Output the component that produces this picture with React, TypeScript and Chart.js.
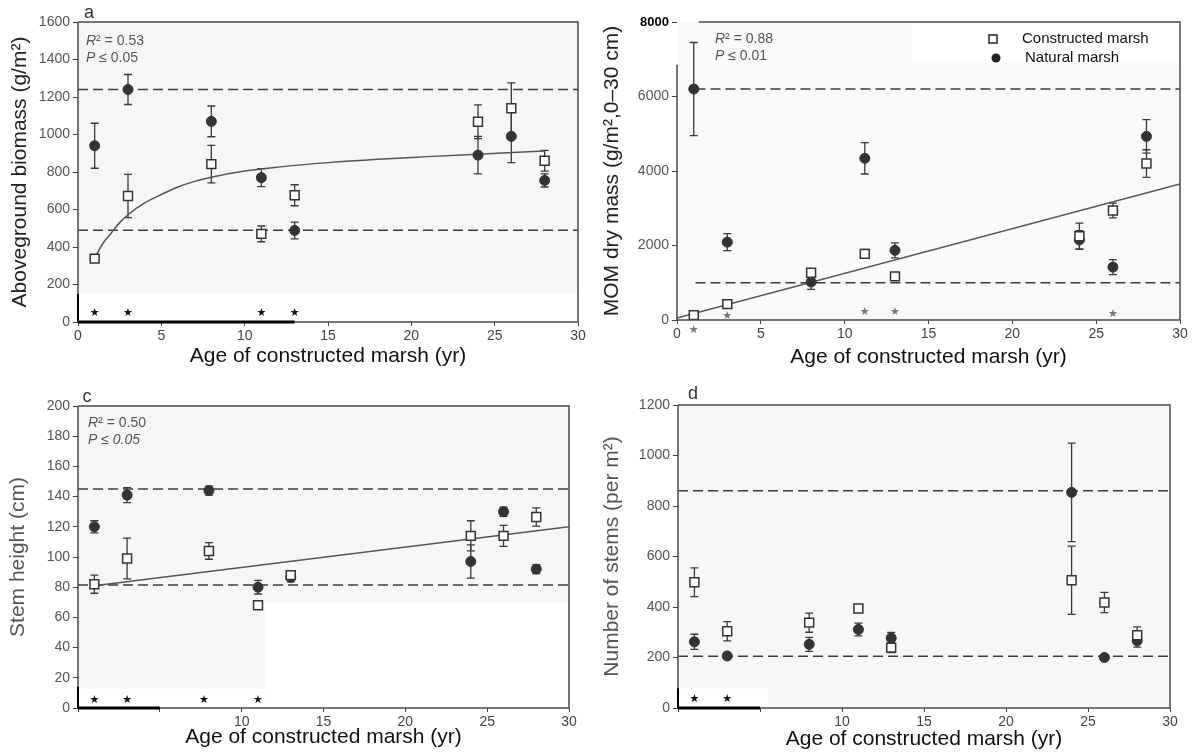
import React, { useEffect, useRef } from "react";
import { Chart, registerables } from "chart.js";
Chart.register(...registerables);

const FONT = "'Liberation Sans', Arial, Helvetica, sans-serif";
Chart.defaults.font.family = FONT;

// ---------- shared ----------
const xTitle = "Age of constructed marsh (yr)";
const legendLabels = ["Constructed marsh", "Natural marsh"];

// ---------- panel a: aboveground biomass ----------
const aAges = [1, 3, 8, 11, 13, 24, 26, 28];
const aNatural = [940, 1240, 1070, 770, 488, 890, 990, 755];
const aNaturalErr = [120, 80, 82, 48, 45, 100, 140, 35];
const aConstructed = [338, 672, 842, 470, 676, 1068, 1140, 860];
const aConstructedErr = [20, 115, 100, 42, 56, 90, 135, 55];
const aRefLines = [1240, 490];
const aFitAges = [1, 1.5, 2, 2.5, 3, 4, 5, 6, 7, 8, 10, 12, 15, 18, 21, 24, 28];
const aFit = [340, 420, 475, 530, 572, 635, 680, 720, 750, 772, 805, 826, 850, 868, 882, 895, 912];
const aStarAges = [1, 3, 11, 13];
const aStarY = [45, 45, 45, 45];
const aYTicks = [0, 200, 400, 600, 800, 1000, 1200, 1400, 1600];

// ---------- panel b: MOM dry mass ----------
const bAges = [1, 3, 8, 11.2, 13, 24, 26, 28];
const bNatural = [6200, 2090, 1020, 4340, 1870, 2150, 1420, 4930];
const bNaturalErr = [1250, 230, 200, 420, 200, 250, 200, 450];
const bConstructed = [130, 425, 1270, 1775, 1170, 2250, 2940, 4200];
const bConstructedErr = [0, 0, 100, 120, 80, 350, 200, 370];
const bRefLines = [6200, 1000];
const bFitAges = [0, 30];
const bFit = [50, 3650];
const bStarAges = [1, 3, 11.2, 13, 26];
const bStarY = [-260, 110, 220, 200, 150];
const bYTicks = [0, 2000, 4000, 6000, 8000];

// ---------- panel c: stem height ----------
const cAges = [1, 3, 8, 11, 13, 24, 26, 28];
const cNatural = [120, 141, 144, 80, 86.5, 97, 130, 92];
const cNaturalErr = [4, 5, 3, 4.5, 3, 11, 3, 3];
const cConstructed = [82, 99, 104, 68, 88, 114, 114, 126.5];
const cConstructedErr = [6, 13.5, 5.5, 0, 2, 10, 7, 6];
const cRefLines = [145, 81.5];
const cFitAges = [1, 30];
const cFit = [81, 120];
const cStarAges = [1, 3, 7.7, 11];
const cStarY = [5.5, 5.5, 5.5, 5.5];
const cYTicks = [0, 20, 40, 60, 80, 100, 120, 140, 160, 180, 200];

// ---------- panel d: number of stems ----------
const dAges = [1, 3, 8, 11, 13, 24, 26, 28];
const dNatural = [262, 206, 252, 311, 277, 854, 200, 266];
const dNaturalErr = [30, 8, 28, 25, 22, 195, 8, 25];
const dConstructed = [498, 304, 338, 394, 239, 506, 418, 288];
const dConstructedErr = [57, 38, 38, 15, 20, 135, 40, 33];
const dRefLines = [860, 205];
const dStarAges = [1, 3];
const dStarY = [37, 37];
const dYTicks = [0, 200, 400, 600, 800, 1000, 1200];

const xTicks = [0, 5, 10, 15, 20, 25, 30];

type Seg = { t: string; it?: boolean };

type Spec = {
  left: number; top: number; w: number; h: number;
  pad: { left: number; right: number; top: number; bottom: number };
  yW: number; xH: number;
  yMax: number; yTicks: number[]; yTitle: string; yTitleColor: string; yTitlePad: number;
  xTitlePad: number; hideX: number[];
  ages: number[]; nat: number[]; natErr: number[]; con: number[]; conErr: number[];
  refLines: number[]; refFrom: number;
  fitX?: number[]; fitY?: number[]; fitCurve?: boolean;
  starX: number[]; starY: number[]; starColor: string;
  letter?: { t: string; x: number; y: number };
  stats?: { x: number; y: number; lines: Seg[][] };
  legend?: boolean;
  bg: string; whiteouts: number[][];
  thick?: { xTo: number; yTo: number };
  leftAxisTop?: number; topFromX?: number;
  boldTop?: boolean;
};

function drawRich(ctx: CanvasRenderingContext2D, x: number, y: number, segs: Seg[], size: number, color: string) {
  ctx.fillStyle = color;
  ctx.textAlign = "left";
  ctx.textBaseline = "middle";
  let cx = x;
  for (const s of segs) {
    ctx.font = `${s.it ? "italic " : ""}${size}px ${FONT}`;
    ctx.fillText(s.t, cx, y);
    cx += ctx.measureText(s.t).width;
  }
}

function decor(p: Spec) {
  return {
    id: "decor",
    beforeDraw(chart: any) {
      const { ctx, chartArea: ca, scales } = chart;
      const xs = scales.x, ys = scales.y;
      ctx.save();
      ctx.fillStyle = p.bg;
      ctx.fillRect(ca.left, ca.top, ca.right - ca.left, ca.bottom - ca.top);
      ctx.fillStyle = "#ffffff";
      for (const [x0, x1, y0, y1] of p.whiteouts) {
        const px0 = xs.getPixelForValue(x0), px1 = xs.getPixelForValue(x1);
        const py0 = ys.getPixelForValue(y1), py1 = ys.getPixelForValue(y0);
        ctx.fillRect(px0, py0, px1 - px0, py1 - py0);
      }
      ctx.restore();
    },
    beforeDatasetsDraw(chart: any) {
      const { ctx, scales } = chart;
      const xs = scales.x, ys = scales.y;
      ctx.save();
      ctx.strokeStyle = "#3a3a3a";
      ctx.lineWidth = 1.3;
      chart.data.datasets.forEach((ds: any) => {
        if (!ds.errorBars) return;
        ds.data.forEach((pt: any, i: number) => {
          const e = ds.errorBars[i];
          if (!e) return;
          const px = xs.getPixelForValue(pt.x);
          const y1 = ys.getPixelForValue(pt.y + e);
          const y2 = ys.getPixelForValue(pt.y - e);
          ctx.beginPath();
          ctx.moveTo(px, y1); ctx.lineTo(px, y2);
          ctx.moveTo(px - 4, y1); ctx.lineTo(px + 4, y1);
          ctx.moveTo(px - 4, y2); ctx.lineTo(px + 4, y2);
          ctx.stroke();
        });
      });
      ctx.restore();
    },
    afterDatasetsDraw(chart: any) {
      const { ctx, chartArea: ca, scales } = chart;
      const xs = scales.x, ys = scales.y;
      ctx.save();
      // frame
      ctx.strokeStyle = "#4a4a4a";
      ctx.lineWidth = 1.5;
      const leftTop = p.leftAxisTop !== undefined ? ys.getPixelForValue(p.leftAxisTop) : ca.top;
      const topFrom = p.topFromX !== undefined ? xs.getPixelForValue(p.topFromX) : ca.left;
      ctx.beginPath();
      ctx.moveTo(ca.left, ca.bottom); ctx.lineTo(ca.left, leftTop);
      ctx.moveTo(topFrom, ca.top); ctx.lineTo(ca.right, ca.top);
      ctx.lineTo(ca.right, ca.bottom); ctx.lineTo(ca.left, ca.bottom);
      ctx.stroke();
      if (p.thick) {
        ctx.strokeStyle = "#000";
        ctx.lineWidth = 3;
        ctx.beginPath();
        ctx.moveTo(ca.left, ca.bottom); ctx.lineTo(xs.getPixelForValue(p.thick.xTo), ca.bottom);
        ctx.stroke();
        ctx.lineWidth = 2;
        ctx.beginPath();
        ctx.moveTo(ca.left, ca.bottom); ctx.lineTo(ca.left, ys.getPixelForValue(p.thick.yTo));
        ctx.stroke();
      }
      // significance stars
      ctx.fillStyle = p.starColor;
      ctx.font = `11px 'DejaVu Sans'`;
      ctx.textAlign = "center";
      ctx.textBaseline = "middle";
      p.starX.forEach((sx, i) => {
        ctx.fillText("★", xs.getPixelForValue(sx), ys.getPixelForValue(p.starY[i]));
      });
      // stats text
      if (p.stats) {
        p.stats.lines.forEach((segs, i) => drawRich(ctx, p.stats!.x, p.stats!.y + i * 17, segs, 14, "#555"));
      }
      // panel letter
      if (p.letter) {
        ctx.fillStyle = "#333";
        ctx.font = `18px ${FONT}`;
        ctx.textAlign = "center";
        ctx.textBaseline = "middle";
        ctx.fillText(p.letter.t, p.letter.x, p.letter.y);
      }
      // legend
      if (p.legend) {
        ctx.fillStyle = "#ffffff";
        ctx.strokeStyle = "#222";
        ctx.lineWidth = 1.5;
        ctx.fillRect(390, 35, 8, 8);
        ctx.strokeRect(390, 35, 8, 8);
        ctx.fillStyle = "#222";
        ctx.beginPath();
        ctx.arc(397, 58, 4.5, 0, Math.PI * 2);
        ctx.fill();
        ctx.font = `15px ${FONT}`;
        ctx.textAlign = "left";
        ctx.textBaseline = "middle";
        ctx.fillStyle = "#111";
        ctx.fillText(legendLabels[0], 423, 39);
        ctx.fillText(legendLabels[1], 426, 58);
      }
      ctx.restore();
    },
  };
}

function buildConfig(p: Spec): any {
  const datasets: any[] = [];
  datasets.push({
    label: legendLabels[0],
    data: p.ages.map((x, i) => ({ x, y: p.con[i] })),
    errorBars: p.conErr,
    pointStyle: "rect",
    pointRadius: 6.3,
    backgroundColor: "#ffffff",
    borderColor: "#333",
    borderWidth: 1.5,
    order: 0,
  });
  datasets.push({
    label: legendLabels[1],
    data: p.ages.map((x, i) => ({ x, y: p.nat[i] })),
    errorBars: p.natErr,
    pointStyle: "circle",
    pointRadius: 5,
    backgroundColor: "#333",
    borderColor: "#333",
    borderWidth: 1,
    order: 1,
  });
  if (p.fitX && p.fitY) {
    datasets.push({
      label: "fit",
      data: p.fitX.map((x, i) => ({ x, y: p.fitY![i] })),
      showLine: true,
      pointRadius: 0,
      borderColor: "#555",
      borderWidth: 1.5,
      cubicInterpolationMode: p.fitCurve ? "monotone" : "default",
      order: 3,
    });
  }
  p.refLines.forEach((v) => {
    datasets.push({
      label: "ref",
      data: [{ x: p.refFrom, y: v }, { x: 30, y: v }],
      showLine: true,
      pointRadius: 0,
      borderColor: "#3c3c3c",
      borderWidth: 1.5,
      borderDash: [10, 5],
      order: 4,
    });
  });

  return {
    type: "scatter",
    data: { datasets },
    options: {
      animation: false,
      responsive: false,
      maintainAspectRatio: false,
      layout: { padding: p.pad, autoPadding: false },
      plugins: { legend: { display: false }, tooltip: { enabled: false } },
      scales: {
        x: {
          type: "linear",
          min: 0,
          max: 30,
          afterFit: (s: any) => { s.height = p.xH; },
          afterBuildTicks: (s: any) => { s.ticks = xTicks.map((v) => ({ value: v })); },
          ticks: {
            color: "#444",
            font: { size: 14, family: FONT },
            padding: 2,
            maxRotation: 0,
            autoSkip: false,
            callback: (v: any) => (p.hideX.includes(Number(v)) ? "" : String(v)),
          },
          grid: { display: true, drawOnChartArea: false, drawTicks: true, tickLength: 4, color: "#444", lineWidth: 1 },
          border: { display: false },
          title: {
            display: true,
            text: xTitle,
            color: "#111",
            font: { size: 21, family: FONT },
            padding: { top: 0, bottom: p.xTitlePad },
          },
        },
        y: {
          type: "linear",
          min: 0,
          max: p.yMax,
          afterFit: (s: any) => { s.width = p.yW; },
          afterBuildTicks: (s: any) => { s.ticks = p.yTicks.map((v) => ({ value: v })); },
          ticks: {
            color: (c: any) => (p.boldTop && c.tick && c.tick.value === p.yMax ? "#000" : "#555"),
            font: (c: any) =>
              p.boldTop && c.tick && c.tick.value === p.yMax
                ? { size: 13, family: FONT, weight: "bold" }
                : { size: 14, family: FONT },
            padding: 3,
            autoSkip: false,
            callback: (v: any) => String(v),
          },
          grid: { display: true, drawOnChartArea: false, drawTicks: true, tickLength: 5, color: "#444", lineWidth: 1 },
          border: { display: false },
          title: {
            display: true,
            text: p.yTitle,
            color: p.yTitleColor,
            font: { size: 21, family: FONT },
            padding: { top: p.yTitlePad, bottom: 0 },
          },
        },
      },
    },
    plugins: [decor(p)],
  };
}

const specs: Spec[] = [
  {
    left: 0, top: 0, w: 599, h: 376,
    pad: { left: 0, right: 21, top: 22, bottom: 0 }, yW: 78, xH: 54,
    yMax: 1600, yTicks: aYTicks, yTitle: "Aboveground biomass (g/m²)", yTitleColor: "#222", yTitlePad: 8,
    xTitlePad: 7, hideX: [],
    ages: aAges, nat: aNatural, natErr: aNaturalErr, con: aConstructed, conErr: aConstructedErr,
    refLines: aRefLines, refFrom: 0, fitX: aFitAges, fitY: aFit, fitCurve: true,
    starX: aStarAges, starY: aStarY, starColor: "#111",
    letter: { t: "a", x: 89, y: 13 },
    stats: { x: 86, y: 41, lines: [[{ t: "R", it: true }, { t: "² = 0.53" }], [{ t: "P", it: true }, { t: " ≤ 0.05" }]] },
    bg: "#f6f6f6", whiteouts: [[0, 30, 0, 150]],
    thick: { xTo: 13, yTo: 150 },
  },
  {
    left: 599, top: 0, w: 599, h: 376,
    pad: { left: 0, right: 18, top: 22, bottom: 0 }, yW: 78, xH: 56,
    yMax: 8000, yTicks: bYTicks, yTitle: "MOM dry mass (g/m²,0–30 cm)", yTitleColor: "#222", yTitlePad: 1,
    xTitlePad: 6, hideX: [],
    ages: bAges, nat: bNatural, natErr: bNaturalErr, con: bConstructed, conErr: bConstructedErr,
    refLines: bRefLines, refFrom: 1.1, fitX: bFitAges, fitY: bFit,
    starX: bStarAges, starY: bStarY, starColor: "#777",
    stats: { x: 116, y: 39, lines: [[{ t: "R", it: true }, { t: "² = 0.88" }], [{ t: "P", it: true }, { t: " ≤ 0.01" }]] },
    legend: true,
    bg: "#f9f9f9", whiteouts: [[14, 30, 6900, 8000]],
    leftAxisTop: 6850, topFromX: 1.3, boldTop: true,
  },
  {
    left: 0, top: 376, w: 599, h: 377,
    pad: { left: 0, right: 30, top: 30, bottom: 0 }, yW: 78, xH: 45,
    yMax: 200, yTicks: cYTicks, yTitle: "Stem height (cm)", yTitleColor: "#555", yTitlePad: 6,
    xTitlePad: 3, hideX: [0, 5],
    ages: cAges, nat: cNatural, natErr: cNaturalErr, con: cConstructed, conErr: cConstructedErr,
    refLines: cRefLines, refFrom: 0, fitX: cFitAges, fitY: cFit,
    starX: cStarAges, starY: cStarY, starColor: "#111",
    letter: { t: "c", x: 87, y: 21 },
    stats: { x: 88, y: 47, lines: [[{ t: "R", it: true }, { t: "² = 0.50" }], [{ t: "P", it: true }, { t: " ≤ 0.05", it: true }]] },
    bg: "#f6f6f6", whiteouts: [[11.4, 30, 0, 70], [0, 11.4, 0, 13]],
    thick: { xTo: 5, yTo: 14 },
  },
  {
    left: 599, top: 376, w: 599, h: 377,
    pad: { left: 0, right: 28, top: 29, bottom: 0 }, yW: 79, xH: 45,
    yMax: 1200, yTicks: dYTicks, yTitle: "Number of stems (per m²)", yTitleColor: "#555", yTitlePad: 1,
    xTitlePad: 1, hideX: [0, 5],
    ages: dAges, nat: dNatural, natErr: dNaturalErr, con: dConstructed, conErr: dConstructedErr,
    refLines: dRefLines, refFrom: 0,
    starX: dStarAges, starY: dStarY, starColor: "#111",
    letter: { t: "d", x: 94, y: 18 },
    bg: "#f7f7f7", whiteouts: [[0, 5.5, 0, 78]],
    thick: { xTo: 5, yTo: 78 },
  },
];

function Panel({ spec }: { spec: Spec }) {
  const ref = useRef<HTMLCanvasElement>(null);
  useEffect(() => {
    if (!ref.current) return;
    const chart = new Chart(ref.current, buildConfig(spec));
    return () => chart.destroy();
  }, [spec]);
  return (
    <canvas
      ref={ref}
      width={spec.w}
      height={spec.h}
      style={{ position: "absolute", left: spec.left, top: spec.top, width: spec.w, height: spec.h }}
    />
  );
}

export default function App() {
  return (
    <div style={{ position: "fixed", left: 0, top: 0, width: 1198, height: 753, background: "#ffffff", overflow: "hidden" }}>
      {specs.map((s, i) => (
        <Panel key={i} spec={s} />
      ))}
    </div>
  );
}
